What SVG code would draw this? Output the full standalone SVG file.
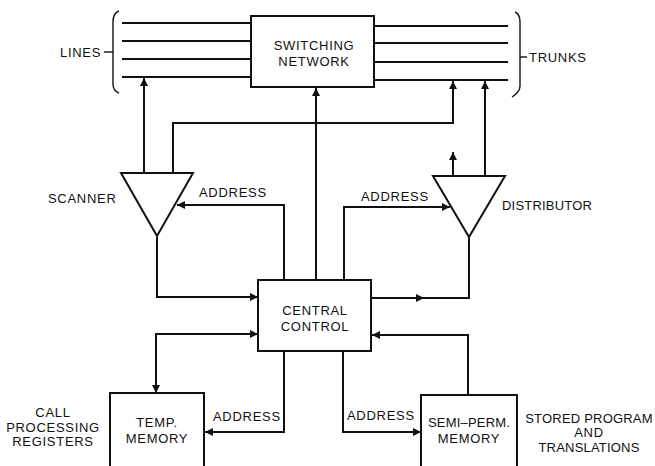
<svg xmlns="http://www.w3.org/2000/svg" width="655" height="466" viewBox="0 0 655 466">
<style>
text{font-family:"Liberation Sans",Arial,sans-serif;font-size:13px;letter-spacing:0.7px;fill:#111}
.c{text-anchor:middle}
.t{letter-spacing:0.2px}
.ln{fill:none;stroke:#111;stroke-width:2}
.thin{fill:none;stroke:#111;stroke-width:1.4}
.box{fill:#fff;stroke:#111;stroke-width:2}
</style>
<defs>
<marker id="ah" viewBox="0 0 10 10" refX="10" refY="5" markerWidth="10" markerHeight="8" markerUnits="userSpaceOnUse" orient="auto-start-reverse">
<path d="M0,0L10,5L0,10z" fill="#111"/>
</marker>
</defs>
<rect width="655" height="466" fill="#fff"/>

<g id="connectors">
<!-- lines and trunks -->
<line class="ln" x1="122" y1="23" x2="251" y2="23"/>
<line class="ln" x1="122" y1="41" x2="251" y2="41"/>
<line class="ln" x1="122" y1="59" x2="251" y2="59"/>
<line class="ln" x1="122" y1="77" x2="251" y2="77"/>
<line class="ln" x1="374" y1="26" x2="508" y2="26"/>
<line class="ln" x1="374" y1="43" x2="508" y2="43"/>
<line class="ln" x1="374" y1="62" x2="508" y2="62"/>
<line class="ln" x1="374" y1="80" x2="508" y2="80"/>
<!-- scanner to lines -->
<path class="ln" d="M144,173V78" marker-end="url(#ah)"/>
<!-- scanner to trunk -->
<path class="ln" d="M173,173V123H453V81" marker-end="url(#ah)"/>
<!-- CC to switching network -->
<path class="ln" d="M316,280V88" marker-end="url(#ah)"/>
<!-- address to scanner -->
<path class="ln" d="M284,280V205H177" marker-end="url(#ah)"/>
<!-- address to distributor -->
<path class="ln" d="M344,280V207H450" marker-end="url(#ah)"/>
<!-- distributor outputs -->
<path class="ln" d="M485,176V81" marker-end="url(#ah)"/>
<path class="ln" d="M453,176V152" marker-end="url(#ah)"/>
<!-- scanner to CC -->
<path class="ln" d="M157,237V297H258" marker-end="url(#ah)"/>
<!-- CC to distributor -->
<path class="ln" d="M371,298H424" marker-end="url(#ah)"/>
<path class="ln" d="M420,298H469V237"/>
<!-- CC <-> temp memory -->
<path class="ln" d="M258,334H156V393" marker-start="url(#ah)" marker-end="url(#ah)"/>
<!-- address to temp memory -->
<path class="ln" d="M284,351V432H205" marker-end="url(#ah)"/>
<!-- address to semi-perm -->
<path class="ln" d="M343,351V432H421" marker-end="url(#ah)"/>
<!-- semi-perm to CC -->
<path class="ln" d="M468,395V335H372" marker-end="url(#ah)"/>
</g>

<g id="lines-label">
<path class="thin" d="M119,11Q113,13 113,22V84Q113,91 119,93"/>
<line class="thin" x1="104" y1="52" x2="113" y2="52"/>
<text x="60" y="57">LINES</text>
</g>

<g id="trunks-label">
<path class="thin" d="M515,12Q520,14 520,22V86Q520,92 512,97"/>
<line class="thin" x1="520" y1="57" x2="527" y2="57"/>
<text x="529" y="62">TRUNKS</text>
</g>

<g id="switching-network">
<rect class="box" x="251" y="16" width="123" height="71"/>
<text class="c" x="314" y="50">SWITCHING</text>
<text class="c" x="314" y="66">NETWORK</text>
</g>

<g id="scanner">
<path class="box" d="M121,173H193L157,236z"/>
<text x="48" y="203">SCANNER</text>
<text x="199" y="197">ADDRESS</text>
</g>

<g id="distributor">
<path class="box" d="M433,176H505L469,237z"/>
<text x="502" y="210" class="t">DISTRIBUTOR</text>
<text x="361" y="201">ADDRESS</text>
</g>

<g id="central-control">
<rect class="box" x="258" y="280" width="113" height="71"/>
<text class="c" x="315" y="315">CENTRAL</text>
<text class="c" x="315" y="331">CONTROL</text>
</g>

<g id="temp-memory">
<rect class="box" x="110" y="393" width="94" height="74"/>
<text class="c" x="157" y="427">TEMP.</text>
<text class="c" x="157" y="443">MEMORY</text>
<text x="213" y="421">ADDRESS</text>
<text class="c" x="53" y="417">CALL</text>
<text class="c" x="53" y="432">PROCESSING</text>
<text class="c" x="53" y="446">REGISTERS</text>
</g>

<g id="semi-perm-memory">
<rect class="box" x="421" y="395" width="96" height="72"/>
<text class="c t" x="469" y="427">SEMI–PERM.</text>
<text class="c" x="469" y="443">MEMORY</text>
<text x="347" y="420">ADDRESS</text>
<text class="c t" x="589" y="423">STORED PROGRAM</text>
<text class="c" x="589" y="437">AND</text>
<text class="c t" x="589" y="452">TRANSLATIONS</text>
</g>
</svg>
